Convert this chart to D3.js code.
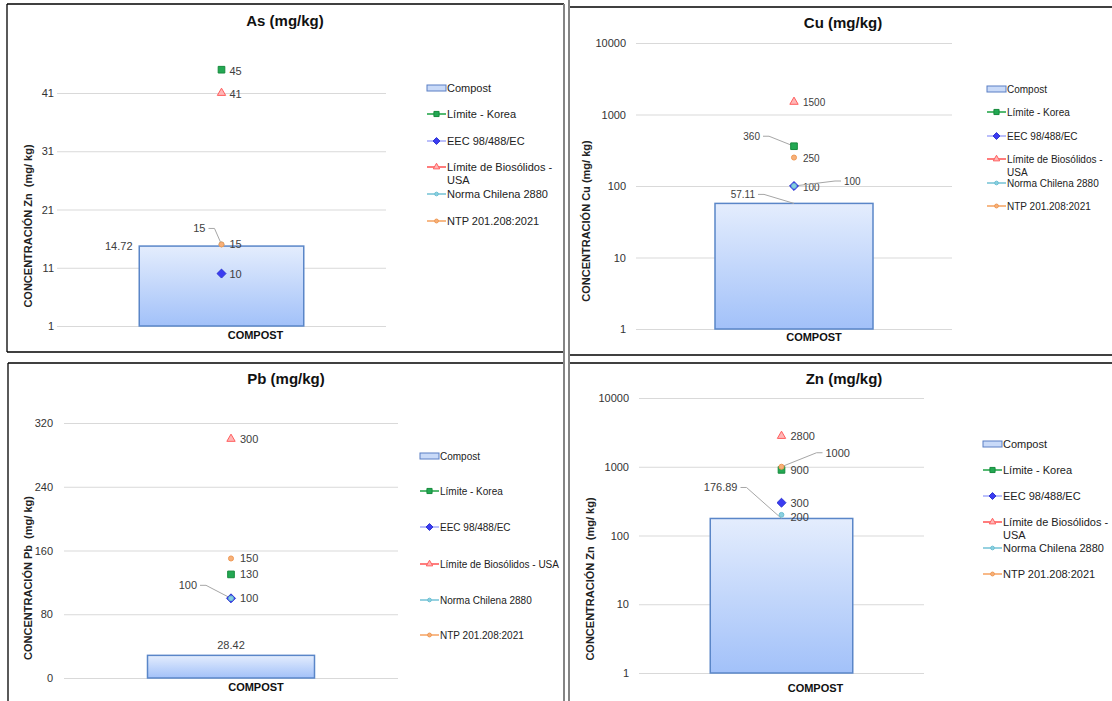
<!DOCTYPE html>
<html>
<head>
<meta charset="utf-8">
<script src="https://cdn.jsdelivr.net/npm/d3@7"></script>
<style>
  body { margin: 0; background: #fff; }
  text { font-family: "Liberation Sans", Arial, sans-serif; }
</style>
</head>
<body>
<svg id="chart" width="1112" height="701"></svg>
<script>
// ---- data ----
const categories = ["COMPOST"];
const metals = ["As", "Cu", "Pb", "Zn"];
const seriesNames = ["Compost", "Límite - Korea", "EEC 98/488/EC", "Límite de Biosólidos - USA", "Norma Chilena 2880", "NTP 201.208:2021"];
const compost    = [14.72, 57.11, 28.42, 176.89];
const koreaLimit = [45, 360, 130, 900];
const eecLimit   = [10, 100, 100, 300];
const usaLimit   = [41, 1500, 300, 2800];
const chileLimit = [15, 100, 100, 200];
const ntpLimit   = [15, 250, 150, 1000];
const asTicks = [1, 11, 21, 31, 41];
const cuTicks = [1, 10, 100, 1000, 10000];
const pbTicks = [0, 80, 160, 240, 320];
const znTicks = [1, 10, 100, 1000, 10000];
const axisTitles = ["CONCENTRACIÓN Zn  (mg/ kg)", "CONCENTRACIÓN Cu (mg/ kg)", "CONCENTRACIÓN Pb  (mg/ kg)", "CONCENTRACIÓN Zn  (mg/ kg)"];

// square diamond (a square turned 45°)
const symbolRhomb = {
  draw(context, size) {
    const r = Math.sqrt(size / 2);
    context.moveTo(0, -r);
    context.lineTo(r, 0);
    context.lineTo(0, r);
    context.lineTo(-r, 0);
    context.closePath();
  }
};

// ---- series styling ----
const limitSeries = [
  { values: koreaLimit, shape: d3.symbolSquare,   size: 44, fill: "#23a853", stroke: "#168a3c", line: "#2aa84e" },
  { values: eecLimit,   shape: symbolRhomb,       size: 40, fill: "#3b3bf2", stroke: "#2d36d0", line: "#aab0fb" },
  { values: usaLimit,   shape: d3.symbolTriangle, size: 30, fill: "#ffb6b6", stroke: "#ff5e5e", line: "#ff5c5c" },
  { values: chileLimit, shape: d3.symbolCircle,   size: 18, fill: "#8ad0e0", stroke: "#6bbfd2", line: "#7cc6d8" },
  { values: ntpLimit,   shape: d3.symbolCircle,   size: 20, fill: "#f6b07a", stroke: "#f09a55", line: "#f6a86a" }
];

// ---- panel layout ----
const panels = [
  { scale: "linear", ticks: asTicks, domain: [1, 47], range: [326, 58.05], plot: [57, 386], tickPad: 3,
    title: [285, 21], yTitle: [28, 226], cat: { dx: 34, y: 335 },
    legend: { x: 427, rows: [88, 114, 141, 167, 194, 221], wrap: true, font: 11 }, labelFont: 11,
    labels: [
      { dx: -89, dy: 0, anchor: "end" },
      { dx: 8, dy: 1 }, { dx: 8, dy: 1 }, { dx: 8, dy: 1 },
      { dx: -16, dy: -16, anchor: "end", leader: true },
      { dx: 8, dy: 0 }
    ] },
  { scale: "log", ticks: cuTicks, domain: [1, 10000], range: [329, 43], plot: [636, 952], tickPad: 10,
    title: [843, 23], yTitle: [586, 221], cat: { dx: 20, y: 337 },
    legend: { x: 987, rows: [89, 112, 136, 159, 183, 206], wrap: true, font: 10 }, labelFont: 10,
    labels: [
      { dx: -39, dy: -9, anchor: "end", leader: true },
      { dx: -34, dy: -10, anchor: "end", leader: true },
      { dx: 9, dy: 1 }, { dx: 9, dy: 1 },
      { dx: 50, dy: -5, anchor: "start", leader: true },
      { dx: 9, dy: 1 }
    ] },
  { scale: "linear", ticks: pbTicks, domain: [0, 320], range: [678, 423], plot: [64, 398], tickPad: 11,
    title: [286, 379], yTitle: [28, 578], cat: { dx: 25, y: 687 },
    legend: { x: 420, rows: [456, 491, 527, 564, 600, 635], wrap: false, font: 10 }, labelFont: 11,
    labels: [
      { dx: 0, dy: -10, anchor: "middle" },
      { dx: 9, dy: 0 }, { dx: 9, dy: 0 }, { dx: 9, dy: 0 },
      { dx: -34, dy: -13, anchor: "end", leader: true },
      { dx: 9, dy: 0 }
    ] },
  { scale: "log", ticks: znTicks, domain: [1, 10000], range: [673, 398], plot: [639, 924], tickPad: 10,
    title: [844, 379], yTitle: [590, 579], cat: { dx: 34, y: 688 },
    legend: { x: 983, rows: [444, 470, 496, 522, 548, 574], wrap: true, font: 11 }, labelFont: 11,
    labels: [
      { dx: -44, dy: -31, anchor: "end", leader: true },
      { dx: 9, dy: 0 }, { dx: 9, dy: 0 }, { dx: 9, dy: 0 }, { dx: 9, dy: 2 },
      { dx: 44, dy: -14, anchor: "start", leader: true }
    ] }
];

const svg = d3.select("#chart");
svg.append("rect").attr("width", 1112).attr("height", 701).attr("fill", "#fff");

const defs = svg.append("defs");
const grad = defs.append("linearGradient").attr("id", "barFill")
  .attr("x1", 0).attr("y1", 0).attr("x2", 0).attr("y2", 1);
grad.append("stop").attr("offset", "0%").attr("stop-color", "#e4edfd");
grad.append("stop").attr("offset", "100%").attr("stop-color", "#a2c1f9");

// ---- frames around the four charts ----
const frames = svg.append("g").attr("fill", "none");
[
  [7, 4, 564, 4], [7, 4, 7, 352], [7, 352, 564, 352],
  [569, 7, 1112, 7], [569, 355, 1112, 355],
  [8, 363, 564, 363], [8, 363, 8, 701],
  [569, 363, 1112, 363]
].forEach(([x1, y1, x2, y2]) => frames.append("line")
  .attr("x1", x1).attr("y1", y1).attr("x2", x2).attr("y2", y2)
  .attr("stroke", "#000").attr("stroke-width", 1.3));
[[564, 4, 564, 701], [569, 0, 569, 701]].forEach(([x1, y1, x2, y2]) => frames.append("line")
  .attr("x1", x1).attr("y1", y1).attr("x2", x2).attr("y2", y2)
  .attr("stroke", "#858585").attr("stroke-width", 2));

function valueText(v) { return String(v); }

panels.forEach((p, i) => {
  const g = svg.append("g");
  const y = (p.scale === "log" ? d3.scaleLog() : d3.scaleLinear()).domain(p.domain).range(p.range);
  const x = d3.scaleBand().domain(categories).range(p.plot).paddingInner(0.5).paddingOuter(0.25);
  const plotW = p.plot[1] - p.plot[0];

  // gridlines + tick labels
  const yAxis = g.append("g").attr("transform", `translate(${p.plot[0]},0)`)
    .call(d3.axisLeft(y).tickValues(p.ticks).tickFormat(d3.format("d")).tickSize(-plotW).tickPadding(p.tickPad));
  yAxis.select(".domain").remove();
  yAxis.selectAll(".tick line").attr("stroke", "#d9d9d9").attr("stroke-width", 1);
  yAxis.selectAll(".tick text").attr("fill", "#333").attr("font-size", 11)
    .style("font-family", "'Liberation Sans', Arial, sans-serif");

  // category axis
  const base = y(p.domain[0]);
  const xAxis = g.append("g").attr("transform", `translate(0,${base})`)
    .call(d3.axisBottom(x).tickSize(0));
  xAxis.select(".domain").remove();
  xAxis.selectAll(".tick text")
    .attr("x", p.cat.dx).attr("y", p.cat.y - base).attr("dy", "0.35em")
    .attr("font-size", 11).attr("font-weight", "bold").attr("fill", "#111")
    .style("font-family", "'Liberation Sans', Arial, sans-serif");

  // compost bar
  const cat = categories[0];
  const cx = x(cat) + x.bandwidth() / 2;
  const barTop = y(compost[i]);
  g.append("rect")
    .attr("x", x(cat)).attr("y", barTop)
    .attr("width", x.bandwidth()).attr("height", base - barTop)
    .attr("fill", "url(#barFill)").attr("stroke", "#5a86c8").attr("stroke-width", 1.5);

  // data labels (compost first, then limits)
  const points = [{ v: compost[i], px: cx, py: barTop }].concat(
    limitSeries.map(s => ({ v: s.values[i], px: cx, py: y(s.values[i]) })));

  const labelG = g.append("g");
  points.forEach((pt, k) => {
    const L = p.labels[k];
    const anchor = L.anchor || "start";
    const lx = pt.px + L.dx, ly = pt.py + L.dy;
    if (L.leader) {
      const sx = anchor === "end" ? lx + 3 : lx - 3;
      const kx = anchor === "end" ? lx + 9 : lx - 9;
      labelG.append("path")
        .attr("d", d3.line()([[sx, ly], [kx, ly], [pt.px, pt.py]]))
        .attr("fill", "none").attr("stroke", "#a6a6a6").attr("stroke-width", 1);
    }
    labelG.append("text")
      .attr("x", lx).attr("y", ly).attr("dy", "0.35em")
      .attr("text-anchor", anchor)
      .attr("font-size", p.labelFont).attr("fill", "#404040")
      .text(valueText(pt.v));
  });

  // limit markers
  limitSeries.forEach(s => {
    g.append("path")
      .attr("d", d3.symbol().type(s.shape).size(s.size)())
      .attr("transform", `translate(${cx},${y(s.values[i])})`)
      .attr("fill", s.fill).attr("stroke", s.stroke).attr("stroke-width", 1);
  });

  // title
  g.append("text").attr("x", p.title[0]).attr("y", p.title[1]).attr("dy", "0.35em")
    .attr("text-anchor", "middle").attr("font-size", 15).attr("font-weight", "bold").attr("fill", "#111")
    .text(`${metals[i]} (mg/kg)`);

  // y-axis title
  g.append("text")
    .attr("transform", `translate(${p.yTitle[0]},${p.yTitle[1]}) rotate(-90)`)
    .attr("dy", "0.35em").attr("text-anchor", "middle")
    .attr("font-size", 11).attr("font-weight", "bold").attr("fill", "#222")
    .style("white-space", "pre")
    .text(axisTitles[i]);

  // legend
  const lg = g.append("g");
  const lx0 = p.legend.x;
  seriesNames.forEach((name, k) => {
    const ry = p.legend.rows[k];
    if (k === 0) {
      lg.append("rect").attr("x", lx0).attr("y", ry - 3).attr("width", 19).attr("height", 6)
        .attr("fill", "#c9daf8").attr("stroke", "#5a7fc4").attr("stroke-width", 1);
    } else {
      const s = limitSeries[k - 1];
      lg.append("line").attr("x1", lx0).attr("x2", lx0 + 19).attr("y1", ry).attr("y2", ry)
        .attr("stroke", s.line).attr("stroke-width", 1.6);
      lg.append("path")
        .attr("d", d3.symbol().type(s.shape).size(s.size * 0.6)())
        .attr("transform", `translate(${lx0 + 9.5},${ry})`)
        .attr("fill", s.fill).attr("stroke", s.stroke).attr("stroke-width", 1);
    }
    const t = lg.append("text").attr("x", lx0 + 20).attr("y", ry).attr("dy", "0.35em")
      .attr("font-size", p.legend.font).attr("fill", "#222");
    if (p.legend.wrap && name.endsWith(" - USA")) {
      t.text(name.replace(" USA", ""));
      lg.append("text").attr("x", lx0 + 20).attr("y", ry + 13).attr("dy", "0.35em")
        .attr("font-size", p.legend.font).attr("fill", "#222").text("USA");
    } else {
      t.text(name);
    }
  });
});
</script>
</body>
</html>
